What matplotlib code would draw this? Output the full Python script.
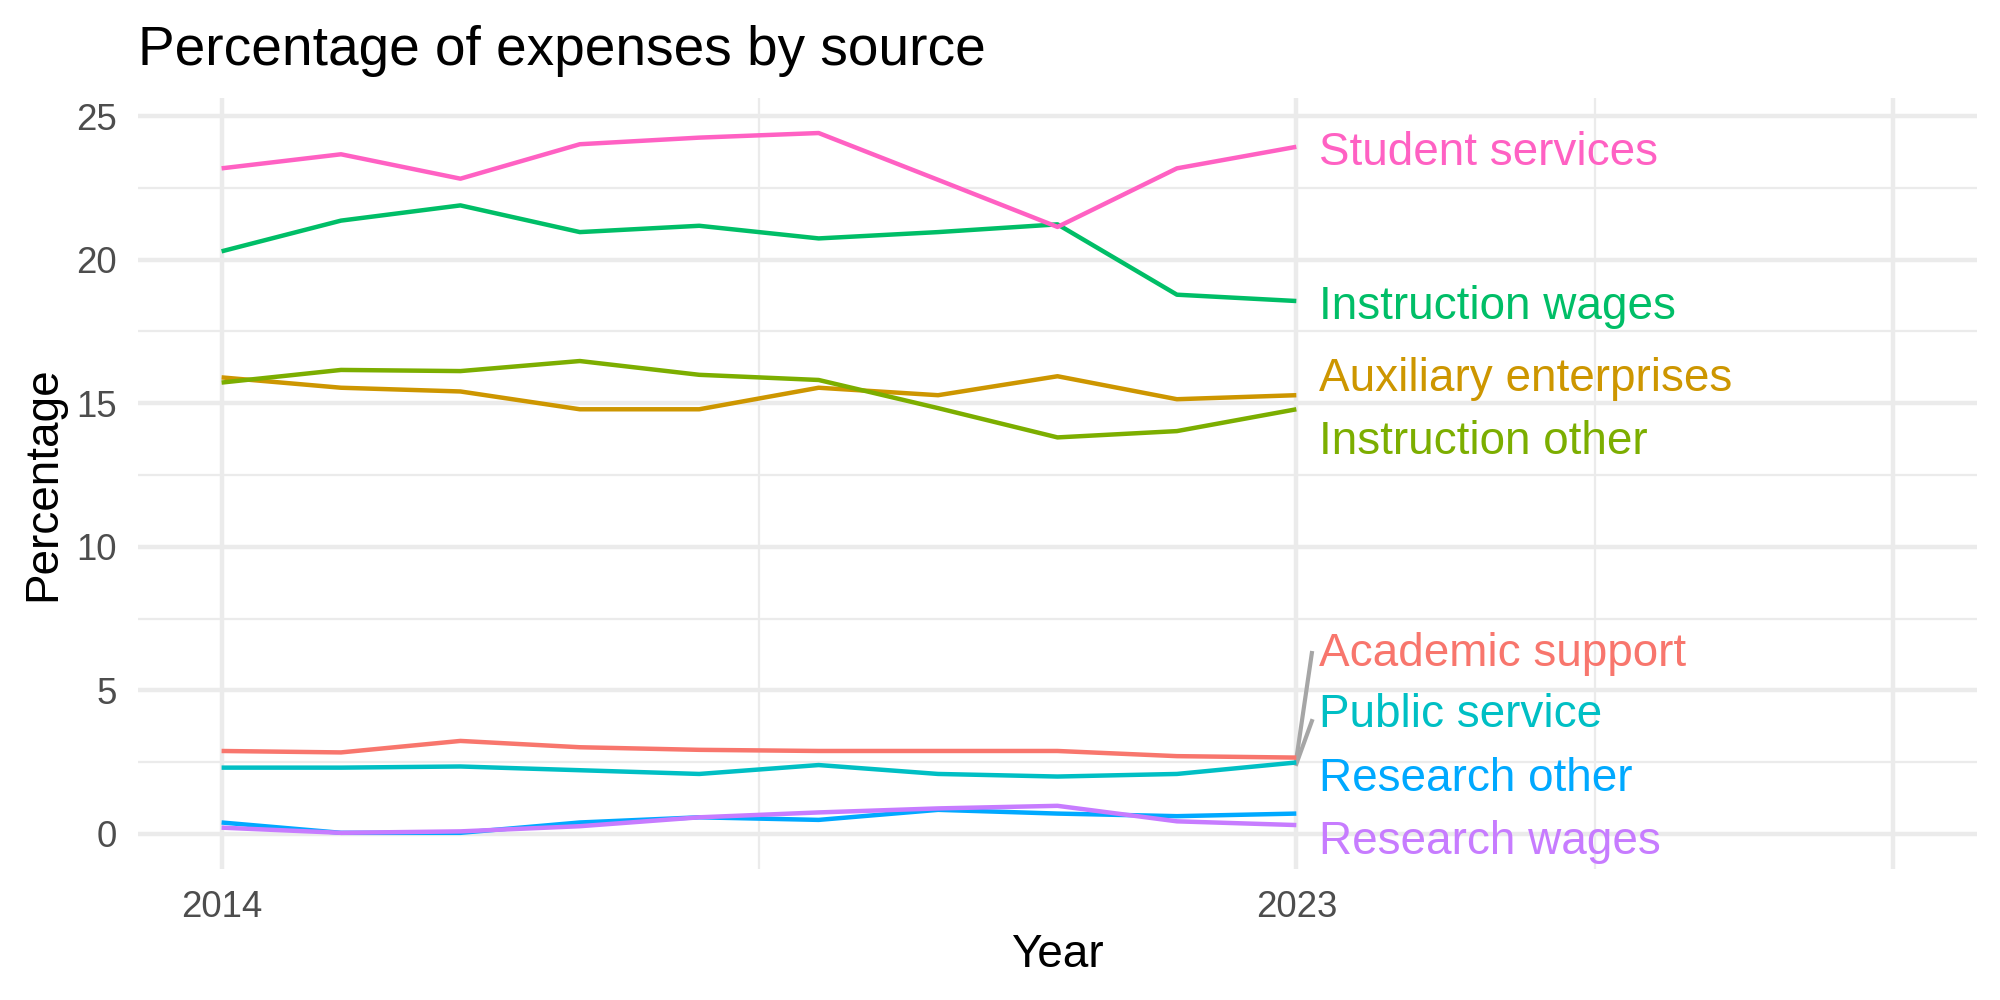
import matplotlib
matplotlib.use("Agg")
import matplotlib.pyplot as plt
import numpy as np

plt.rcParams['font.family'] = ['Liberation Sans', 'DejaVu Sans']

years = np.arange(2014, 2024)

sources = ["Academic support", "Auxiliary enterprises", "Instruction other",
           "Instruction wages", "Public service", "Research other",
           "Research wages", "Student services"]
colors = ["#F8766D", "#CD9600", "#7CAE00", "#00BE67",
          "#00BFC4", "#00A9FF", "#C77CFF", "#FF61C3"]

academic_support = [2.89, 2.84, 3.24, 3.02, 2.93, 2.89, 2.89, 2.89, 2.71, 2.66]
auxiliary_enterprises = [15.90, 15.54, 15.41, 14.79, 14.79, 15.54, 15.28, 15.94, 15.14, 15.28]
instruction_other = [15.72, 16.16, 16.12, 16.47, 15.99, 15.81, 14.83, 13.81, 14.03, 14.79]
instruction_wages = [20.29, 21.36, 21.89, 20.96, 21.18, 20.74, 20.96, 21.23, 18.78, 18.56]
public_service = [2.31, 2.31, 2.35, 2.22, 2.09, 2.40, 2.09, 2.00, 2.09, 2.49]
research_other = [0.40, 0.04, 0.04, 0.40, 0.58, 0.49, 0.84, 0.71, 0.62, 0.71]
research_wages = [0.22, 0.04, 0.09, 0.27, 0.58, 0.75, 0.89, 0.98, 0.44, 0.31]
student_services = [23.18, 23.67, 22.82, 24.02, 24.25, 24.41, 22.78, 21.14, 23.18, 23.93]

series = [academic_support, auxiliary_enterprises, instruction_other,
          instruction_wages, public_service, research_other,
          research_wages, student_services]

# repelled label positions (y) at the right end
label_y = [6.44, 16.03, 13.81, 18.52, 4.31, 2.09, -0.09, 23.89]

# ggplot-like sizing: 300 dpi, base size 11
fig = plt.figure(figsize=(20 / 3, 10 / 3), dpi=300)
ax = fig.add_axes([0.069, 0.131, 0.9195, 0.771])

lw = 1.07
for vals, c, name, ly in zip(series, colors, sources, label_y):
    ax.plot(years, vals, color=c, lw=lw, solid_capstyle='butt', zorder=3)
    ax.text(2023.19, ly, name, color=c, fontsize=11, ha='left',
            va='center_baseline', zorder=4)

# repel segments
for name, end_y in [("Academic support", 6.30), ("Public service", 3.93)]:
    i = sources.index(name)
    ax.plot([2023, 2023.13], [series[i][-1] - 0.05, end_y], color="#A6A6A6",
            lw=1.0, zorder=2)

ax.set_xlim(2013.3, 2028.7)
ax.set_ylim(-1.22, 25.63)

ax.set_xticks([2014, 2023, 2028])
ax.set_xticklabels(["2014", "2023", ""])
ax.set_xticks([2018.5, 2025.5], minor=True)
ax.set_yticks([0, 5, 10, 15, 20, 25])
ax.set_yticks([2.5, 7.5, 12.5, 17.5, 22.5], minor=True)

ax.grid(which='major', color="#EBEBEB", lw=1.07, zorder=0)
ax.grid(which='minor', color="#EBEBEB", lw=0.53, zorder=0)
ax.set_axisbelow(True)
for s in ax.spines.values():
    s.set_visible(False)
ax.tick_params(which='both', length=0, labelsize=8.8, labelcolor="#4D4D4D")
ax.tick_params(axis='x', pad=5)
ax.tick_params(axis='y', pad=5)

ax.set_xlabel("Year", fontsize=11, labelpad=2)
ax.set_ylabel("Percentage", fontsize=11, labelpad=2.6)
ax.set_title("Percentage of expenses by source", fontsize=13.2, loc='left',
             pad=8)

fig.savefig("out.png", dpi=300)
